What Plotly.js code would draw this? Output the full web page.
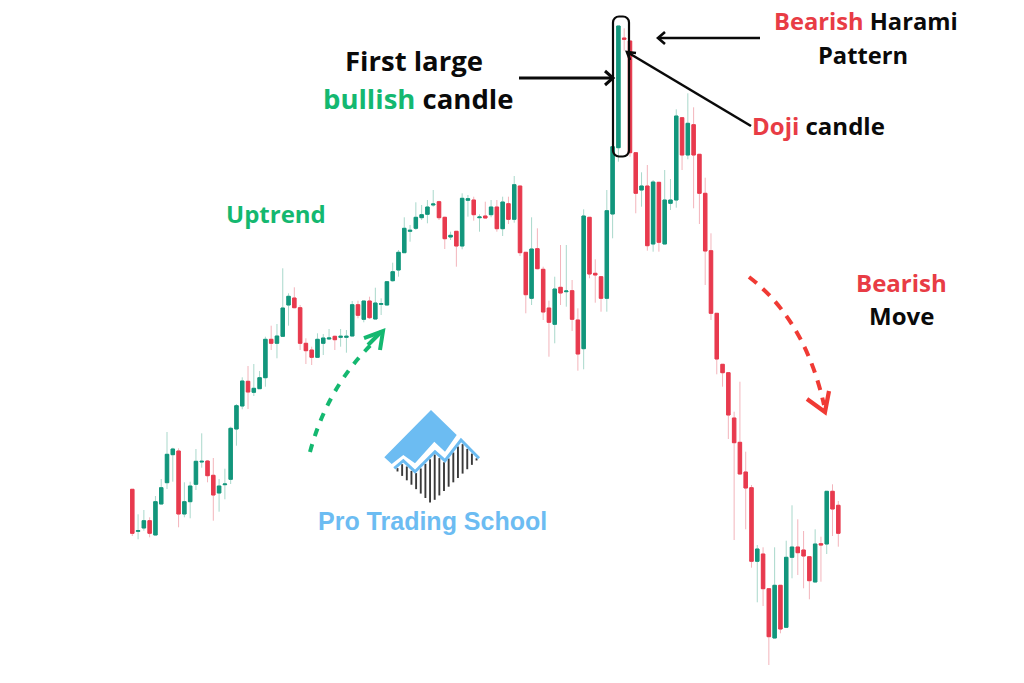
<!DOCTYPE html>
<html><head><meta charset="utf-8">
<script src="https://cdn.plot.ly/plotly-3.0.1.min.js"></script>
<style>html,body{margin:0;padding:0;background:#fff}#c{width:1024px;height:683px}</style></head>
<body><div id="c"></div>
<script>
const open_=[193.7,151.7,155,162.3,148,179,200.3,228.3,232,169,181.3,198.7,221,222,207.7,190,198.3,203.7,254,277,301.7,290.7,294.3,305.3,343.7,339.7,346.7,
378,385,375.3,339.7,333,325.7,339.7,344,346.7,345.7,345.7,347,378.3,363.7,382,364,378.7,378,402.3,413,430.3,451.7,454.7,465.3,468.7,478,481.3,465.7,
446,451.7,437,482.7,483,465.3,467,468.3,476,454.3,479.3,463.7,497,430.7,384.7,434.3,413.7,375,358.7,395.7,391.3,392.3,363,334.3,465.7,409.7,406.3,384.7,
469,535.3,645,642,530.3,493,497,439,500.7,439,479.7,483,565.3,528,558.3,528.7,489.7,432.3,
369.7,318.7,310.3,265,240.7,211,195.3,121.7,129,94.3,45,97.7,55.7,125.7,136,133,126.3,101,139.3,139,191.7,177.7];
const close_=[149.7,152.3,162.3,149.7,181.3,195.3,228.7,234,169,181.3,197,221.7,221.7,207.3,188,197,199,254.7,277.3,302,291,294.7,305.3,343.7,339.7,347,375,
386.7,375.3,339.7,332.3,325.7,343.7,345,345,343.3,346.7,346.7,378.3,367.7,382,365.3,380,379.3,401.3,411.3,430.7,454.7,452.7,465.7,468.3,476,479,465.3,444.3,
447.7,437,484.7,484.3,468.3,466,465,476,454.3,481,463.7,498.3,430.3,388.3,434,414.3,371,360.7,394,390,392,363.7,329,467,409,408,384.7,472.3,
536.3,657,643.7,530.3,489.7,497,437.3,501,440.7,483,483,567,528,559.7,528,489.7,432,369.7,
324,310.3,268,240.3,209,195,121.7,134,94.3,46.3,97.7,54,125.7,136,130.3,127,102.3,139,138,191.7,174,149.7];
const high_=[193.7,168.7,173,165.7,187,204,251,235.3,234.7,200.7,201.3,234,249.7,223,225,204,214.3,256.3,279,305.7,317,319,312,346.3,357.3,359,414.7,
389.7,395.7,378,344.7,336.3,349.7,349,354,347.3,354,353,382,382.3,382,386.3,395.3,384.7,401.3,420.3,433,465.7,458,480.7,478,483,493,482.3,466.3,
451.3,451.7,489.7,488,486.3,468.7,481.3,483,483,486.3,486.3,507,497,430.7,465.7,454.7,416.3,382.3,406.3,438,438,403,374.7,473.7,465.7,423.7,407,493,
539.7,657,654.7,642,530.3,510.7,518,503,500.7,513,504,573.7,565.3,589.7,575.7,528.7,505.3,449.7,
369.7,318.7,310.3,271.3,301.3,231.3,198,138,135.7,94.3,135.7,97.7,142.3,177.7,163.7,152,126.3,153.7,146.3,191.7,198.7,182];
const low_=[147,143.7,152.3,145.7,148,179,194,201.3,155.7,165.7,164.7,193,215.3,200.7,162.3,171.3,183.7,199,237.3,273.7,274,287,294.3,296.3,333,324.7,346.7,
357.3,374.7,333,319,318,325.7,328,343,333,336.3,330.3,347,364.7,360.7,364,364,368,378,401.3,406.3,430.3,441.3,453,463,459.7,476.3,463,434,
443,416.3,433.7,466.3,462.3,451.3,464.7,465.7,451.3,447,459,460.3,427,369.7,378,413.7,363,326.3,339.7,378,376.3,352,312.3,313.7,404.7,380.3,371.3,371.3,
444.7,521.3,632.3,526.3,469.7,476.3,432.3,431.3,431.3,439,473,475.3,513,523.7,474.7,459,398,363,
308.7,296.3,244,143,209,153.7,115.3,80.7,77,18,45,49.7,55.7,104.7,108,94.7,83.7,101,101.3,129,147,136.3];
const labels=open_.map((_,i)=>i);

const GREEN='#12967c',RED='#e83a4e',GW='#a9d8cb',RW='#f3b4bb',TG='#14b870',TR='#e83c45',BLUE='#6cbcf2',INK='#0a0a0a';
const bodyTop=open_.map((o,i)=>Math.max(o,close_[i])), bodyBot=open_.map((o,i)=>Math.min(o,close_[i]));
const wicks={type:'candlestick',x:labels,open:open_,close:close_,high:high_,low:low_,hoverinfo:'skip',
 increasing:{line:{color:GW,width:1},fillcolor:GREEN},decreasing:{line:{color:RW,width:1},fillcolor:RED},showlegend:false};
const bodies={type:'candlestick',x:labels,open:open_,close:close_,high:bodyTop,low:bodyBot,hoverinfo:'skip',
 increasing:{line:{color:GREEN,width:1},fillcolor:GREEN},decreasing:{line:{color:RED,width:1},fillcolor:RED},showlegend:false};

const px=v=>v/1024, py=v=>1-v/683;
function pth(d,color,w,dash,fill){return {type:'path',xref:'paper',yref:'paper',path:d,layer:'above',
 line:{color:color,width:w,dash:dash||'solid'},fillcolor:fill||'rgba(0,0,0,0)'};}
function P(pts,close){return 'M'+pts.map(p=>px(p[0]).toFixed(5)+','+py(p[1]).toFixed(5)).join(' L')+(close?' Z':'');}
function Q(a,b,c){return 'M'+px(a[0])+','+py(a[1])+' Q'+px(b[0])+','+py(b[1])+' '+px(c[0])+','+py(c[1]);}
function roundRect(x0,y0,x1,y1,r){const k=r*0.45;return 'M'+px(x0+r)+','+py(y0)+' L'+px(x1-r)+','+py(y0)+
 ' C'+px(x1-k)+','+py(y0)+' '+px(x1)+','+py(y0+k)+' '+px(x1)+','+py(y0+r)+' L'+px(x1)+','+py(y1-r)+
 ' C'+px(x1)+','+py(y1-k)+' '+px(x1-k)+','+py(y1)+' '+px(x1-r)+','+py(y1)+' L'+px(x0+r)+','+py(y1)+
 ' C'+px(x0+k)+','+py(y1)+' '+px(x0)+','+py(y1-k)+' '+px(x0)+','+py(y1-r)+' L'+px(x0)+','+py(y0+r)+
 ' C'+px(x0)+','+py(y0+k)+' '+px(x0+k)+','+py(y0)+' '+px(x0+r)+','+py(y0)+' Z';}

const shapes=[
 pth(roundRect(613,16.5,629,156.5,6),INK,2.2),
 pth(P([[519,78],[612,78]]),INK,3), pth(P([[605,71],[613,78],[605,85]]),INK,3),
 pth(P([[760,38],[658,38]]),INK,2.6), pth(P([[665,32],[658,38],[665,44]]),INK,2.6),
 pth(P([[751,126],[627,52]]),INK,2.6), pth(P([[636,53],[627,52],[630,60]]),INK,2.6),
 pth(Q([310,452],[328,385],[376,340]),TG,4,'8px,8.5px'), pth(P([[364,338],[383,331],[380,350]]),TG,4),
 pth(P([[381,332],[368,345]]),TG,4),
 pth(Q([749,277],[805,320],[824,405]),'#f03a34',4,'10px,8px'), pth(P([[807,399],[825,412],[829,391]]),'#f03a34',4.2),
 pth(P([[431,410],[456.7,435],[445,451.7],[434.3,441.7],[415,463.3],[403.3,455],[391.7,464],[384.3,457.3]],true),BLUE,0,null,BLUE)
];
const zig=[[394.3,468.3],[403.3,460.7],[415,471.7],[435,451.7],[445,460.7],[461,440],[479,458.3]];
function onZig(x){for(let i=0;i<zig.length-1;i++){const a=zig[i],b=zig[i+1];if(x>=a[0]&&x<=b[0])return a[1]+(b[1]-a[1])*(x-a[0])/(b[0]-a[0]);}return 468;}
for(let x=397.5;x<477;x+=4.65){
 const top=onZig(x)+2.5, bot=503.3-Math.abs(x-431)*(x<431?0.95:0.94);
 if(bot>top) shapes.push(pth(P([[x,top],[x,bot]]),'#3a3a3a',1.9));
}
shapes.push(pth(P(zig),BLUE,3));

function T(text,x,y,size,o){return Object.assign({text:text,xref:'paper',yref:'paper',x:px(x),y:py(y),showarrow:false,
 xanchor:'center',yanchor:'middle',font:{family:'"Open Sans", "Noto Sans", sans-serif',size:size,color:INK}},o||{});}
const c=(t,col)=>'<span style="color:'+col+'"><b>'+t+'</b></span>';
const annotations=[
 T('<b>First large</b>',414,60,27.5),
 T(c('bullish',TG)+' <b>candle</b>',417.5,98,27.5),
 T(c('Bearish',TR)+' <b>Harami</b>',865.5,21,23.7),
 T('<b>Pattern</b>',862.5,55,23.7),
 T(c('Doji',TR)+' <b>candle</b>',818,125,24),
 T(c('Uptrend',TG),275.5,214,24),
 T(c('Bearish',TR),901.5,282,24),
 T('<b>Move</b>',901.5,315,24),
 T('<b>Pro Trading School</b>',432,521,25,{font:{family:'"Liberation Sans", Arial, sans-serif',size:25,color:BLUE}})
];
Plotly.newPlot('c',[wicks,bodies],{
 width:1024,height:683,margin:{l:0,r:0,t:0,b:0},paper_bgcolor:'#fff',plot_bgcolor:'#fff',showlegend:false,boxgap:0.15,
 xaxis:{range:[-22.86,154.09],visible:false,rangeslider:{visible:false},fixedrange:true},
 yaxis:{range:[0,683],visible:false,fixedrange:true},
 shapes:shapes,annotations:annotations
},{staticPlot:true,displayModeBar:false});
</script></body></html>
